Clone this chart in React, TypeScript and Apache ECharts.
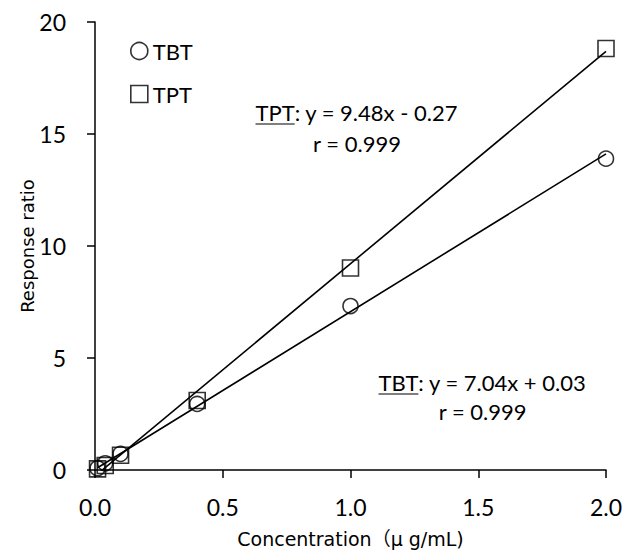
import React, { useEffect, useRef } from "react";
import * as echarts from "echarts";

// Calibration standards (µg/mL)
const concentrations = [0.01, 0.04, 0.1, 0.4, 1.0, 2.0];
// Measured response ratios
const tbtResponse = [0.08, 0.3, 0.72, 2.95, 7.32, 13.9];
const tptResponse = [0.05, 0.2, 0.66, 3.1, 9.02, 18.82];

// Linear fits shown in the annotations
const tbtFit = { slope: 7.04, intercept: 0.03, r: "0.999" };
const tptFit = { slope: 9.48, intercept: -0.27, r: "0.999" };

const xTicks = [0, 0.5, 1.0, 1.5, 2.0];
const yTicks = [0, 5, 10, 15, 20];

const LABEL_FONT = "Lato";
const TITLE_FONT = "'DejaVu Sans', 'Noto Sans CJK JP', sans-serif";

function measure(text: string, font: string): number {
  const c = document.createElement("canvas").getContext("2d");
  if (!c) return text.length * 10;
  c.font = font;
  return c.measureText(text).width;
}

function fitLine(fit: { slope: number; intercept: number }) {
  const x0 = concentrations[0];
  const x1 = concentrations[concentrations.length - 1];
  return [
    [x0, fit.slope * x0 + fit.intercept],
    [x1, fit.slope * x1 + fit.intercept],
  ];
}

function fmtEq(fit: { slope: number; intercept: number }) {
  const sign = fit.intercept < 0 ? "-" : "+";
  return `: y = ${fit.slope.toFixed(2)}x ${sign} ${Math.abs(fit.intercept).toFixed(2)}`;
}

// Annotation block: underlined compound name, equation, and r on a second line
function annotation(name: string, fit: any, left: number, top: number, size: number, lineGap: number) {
  const font = `${size}px ${LABEL_FONT}`;
  const nameW = measure(name, font);
  const eq = fmtEq(fit);
  const eqW = measure(eq, font);
  const totalW = nameW + eqW;
  const rText = `r = ${fit.r}`;
  return {
    type: "group",
    left,
    top,
    children: [
      {
        type: "text",
        x: 0,
        y: 0,
        style: { text: name, font, fill: "#000", textVerticalAlign: "top" },
      },
      {
        type: "line",
        shape: { x1: 0, y1: size + 1, x2: nameW, y2: size + 1 },
        style: { stroke: "#000", lineWidth: 1.2 },
      },
      {
        type: "text",
        x: nameW,
        y: 0,
        style: { text: eq, font, fill: "#000", textVerticalAlign: "top" },
      },
      {
        type: "text",
        x: totalW / 2,
        y: lineGap,
        style: { text: rText, font, fill: "#000", textAlign: "center", textVerticalAlign: "top" },
      },
    ],
  };
}

export default function App() {
  const ref = useRef<HTMLDivElement>(null);

  useEffect(() => {
    if (!ref.current) return;
    const chart = echarts.init(ref.current, undefined, { renderer: "svg" });

    const tbtPts = concentrations.map((x, i) => [x, tbtResponse[i]]);
    const tptPts = concentrations.map((x, i) => [x, tptResponse[i]]);
    const markerStyle = { color: "rgba(0,0,0,0)", borderColor: "#000", borderWidth: 1.6 };

    chart.setOption({
      animation: false,
      backgroundColor: "#fff",
      grid: { left: 95, right: 29, top: 22, bottom: 86 },
      legend: {
        orient: "vertical",
        left: 125,
        top: 35,
        itemWidth: 17,
        itemHeight: 17,
        itemGap: 21,
        textStyle: { fontFamily: LABEL_FONT, fontSize: 22, color: "#000" },
        data: [
          { name: "TBT", icon: "circle", itemStyle: markerStyle },
          { name: "TPT", icon: "rect", itemStyle: markerStyle },
        ],
      },
      xAxis: {
        type: "value",
        min: xTicks[0],
        max: xTicks[xTicks.length - 1],
        interval: 0.5,
        name: "Concentration\uff08\u03bc g/mL)",
        nameLocation: "middle",
        nameGap: 59,
        nameMoveOverlap: false,
        nameTextStyle: { fontFamily: TITLE_FONT, fontSize: 19, color: "#000" },
        axisLine: { lineStyle: { color: "#000", width: 1.5 } },
        axisTick: { show: true, inside: false, length: 8, lineStyle: { color: "#000", width: 1.5 } },
        axisLabel: {
          margin: 25,
          fontFamily: LABEL_FONT,
          fontSize: 23,
          color: "#000",
          formatter: (v: number) => v.toFixed(1),
        },
        splitLine: { show: false },
      },
      yAxis: {
        type: "value",
        min: yTicks[0],
        max: yTicks[yTicks.length - 1],
        interval: 5,
        name: "Response ratio",
        nameLocation: "middle",
        nameGap: 59,
        nameMoveOverlap: false,
        nameTextStyle: { fontFamily: TITLE_FONT, fontSize: 18, color: "#000" },
        axisLine: { show: true, lineStyle: { color: "#000", width: 1.5 } },
        axisTick: { show: true, inside: false, length: 8, lineStyle: { color: "#000", width: 1.5 } },
        axisLabel: { margin: 29, fontFamily: LABEL_FONT, fontSize: 23, color: "#000" },
        splitLine: { show: false },
      },
      series: [
        {
          name: "TBT fit",
          type: "line",
          data: fitLine(tbtFit),
          symbol: "none",
          lineStyle: { color: "#000", width: 1.6 },
          z: 1,
        },
        {
          name: "TPT fit",
          type: "line",
          data: fitLine(tptFit),
          symbol: "none",
          lineStyle: { color: "#000", width: 1.6 },
          z: 1,
        },
        {
          name: "TBT",
          type: "scatter",
          data: tbtPts,
          symbol: "circle",
          symbolSize: 15,
          itemStyle: markerStyle,
          z: 3,
        },
        {
          name: "TPT",
          type: "scatter",
          data: tptPts,
          symbol: "rect",
          symbolSize: 16,
          itemStyle: markerStyle,
          z: 3,
        },
      ],
      graphic: [
        annotation("TPT", tptFit, 253, 101, 22, 31),
        annotation("TBT", tbtFit, 376, 371, 22, 29),
      ],
    });

    return () => chart.dispose();
  }, []);

  return (
    <div
      ref={ref}
      style={{ position: "absolute", left: 0, top: 0, width: 635, height: 556 }}
    />
  );
}
